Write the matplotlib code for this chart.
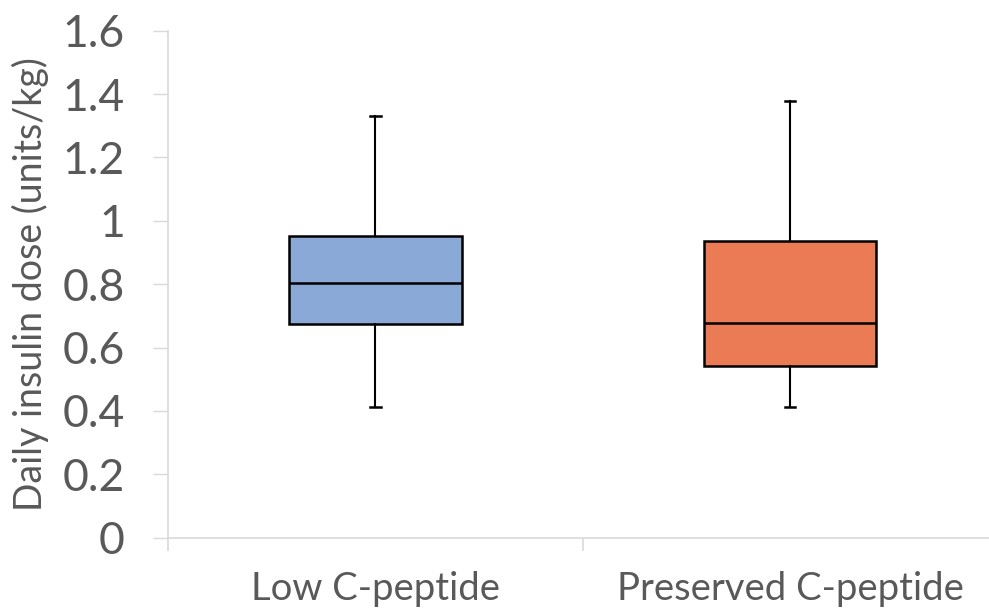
import matplotlib
matplotlib.use("Agg")
from matplotlib import pyplot as plt

# values
groups = ["Low C-peptide", "Preserved C-peptide"]
whisker_low = [0.413, 0.413]
q1 = [0.674, 0.543]
median = [0.805, 0.678]
q3 = [0.951, 0.936]
whisker_high = [1.332, 1.377]
colors = ["#8AA9D6", "#EB7B55"]
y_ticks = [0, 0.2, 0.4, 0.6, 0.8, 1, 1.2, 1.4, 1.6]
y_tick_labels = ["0", "0.2", "0.4", "0.6", "0.8", "1", "1.2", "1.4", "1.6"]

plt.rcParams['font.family'] = ['Lato', 'DejaVu Sans']
grey = "#D9D9D9"
text_col = "#595959"

fig = plt.figure(figsize=(9.89, 6.12), dpi=100)
ax = fig.add_axes([0.1699, 0.1214, 0.8301, 0.8284])

stats = []
for i in range(len(groups)):
    stats.append(dict(med=median[i], q1=q1[i], q3=q3[i],
                      whislo=whisker_low[i], whishi=whisker_high[i],
                      fliers=[], label=groups[i]))

bp = ax.bxp(stats, positions=[1, 2], widths=0.417, patch_artist=True,
            showfliers=False, capwidths=0.026,
            boxprops=dict(linewidth=1.8, edgecolor="black"),
            medianprops=dict(color="black", linewidth=1.8),
            whiskerprops=dict(color="black", linewidth=1.5),
            capprops=dict(color="black", linewidth=1.8))
for patch, c in zip(bp['boxes'], colors):
    patch.set_facecolor(c)

ax.set_yticks(y_ticks)
ax.set_yticklabels(y_tick_labels)
ax.tick_params(axis='y', length=11, width=1, color=grey, labelsize=32,
               labelcolor=text_col, pad=20)

# category boundary ticks, labels at centres
ax.set_xticks([0.5, 1.5, 2.5])
ax.set_xticklabels(["", "", ""])
ax.set_xticks([1, 2], minor=True)
ax.set_xticklabels(groups, minor=True)
ax.tick_params(axis='x', which='major', length=9, width=1.2, color=grey)
ax.tick_params(axis='x', which='minor', length=0, labelsize=27.5,
               labelcolor=text_col, pad=24)

# limits after the ticks, so set_xticks does not widen them
ax.set_ylim(0, 1.6)
ax.set_xlim(0.5, 2.48)

for s in ["top", "right"]:
    ax.spines[s].set_visible(False)
for s in ["left", "bottom"]:
    ax.spines[s].set_color(grey)
    ax.spines[s].set_linewidth(1.2)

ax.set_ylabel("Daily insulin dose (units/kg)", fontsize=27, color=text_col,
              labelpad=10)

fig.savefig("out.png", dpi=100)
